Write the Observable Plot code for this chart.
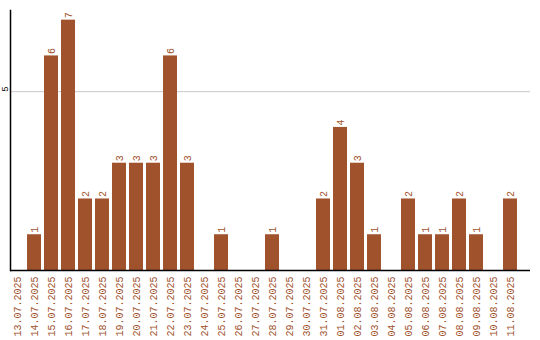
<!DOCTYPE html>
<html>
<head>
<meta charset="utf-8">
<script src="https://cdn.jsdelivr.net/npm/d3@7"></script>
<script src="https://cdn.jsdelivr.net/npm/@observablehq/plot@0.6"></script>
<style>
  html, body { margin: 0; padding: 0; background: #fff; }
  #chart svg { display: block; }
</style>
</head>
<body>
<div id="chart"></div>
<script>
const dates = ["13.07.2025","14.07.2025","15.07.2025","16.07.2025","17.07.2025","18.07.2025","19.07.2025","20.07.2025","21.07.2025","22.07.2025","23.07.2025","24.07.2025","25.07.2025","26.07.2025","27.07.2025","28.07.2025","29.07.2025","30.07.2025","31.07.2025","01.08.2025","02.08.2025","03.08.2025","04.08.2025","05.08.2025","06.08.2025","07.08.2025","08.08.2025","09.08.2025","10.08.2025","11.08.2025"];
const counts = [0,1,6,7,2,2,3,3,3,6,3,0,1,0,0,1,0,0,2,4,3,1,0,2,1,1,2,1,0,2];
const yTicks = [5];

const data = dates.map((d, i) => ({date: d, count: counts[i]}));
const bars = data.filter(d => d.count > 0);
const color = "#A0522D";

const chart = Plot.plot({
  width: 540,
  height: 340,
  marginLeft: 10,
  marginRight: 10,
  marginTop: 10,
  marginBottom: 70,
  style: {fontFamily: "'Liberation Mono', 'DejaVu Sans Mono', monospace", background: "#fff"},
  x: {domain: dates, range: [10, 517], paddingInner: 3/17, paddingOuter: 0, align: 0},
  y: {domain: [0, 7.27]},
  marks: [
    Plot.gridY(yTicks, {stroke: "#c8c8c8", strokeOpacity: 1}),
    Plot.barY(bars, {x: "date", y: "count", fill: color}),
    Plot.text(bars, {x: "date", y: "count", text: d => String(d.count), rotate: -90, textAnchor: "start", dy: -2, fill: color, fontSize: 10}),
    Plot.axisX({tickSize: 0, tickRotate: -90, tickPadding: 6, fontSize: 10, fill: color, label: null}),
    Plot.text(yTicks, {y: d => d, text: d => String(d), frameAnchor: "left", dx: -5, rotate: -90, fontSize: 9, fill: "#000"}),
    Plot.axisY({ticks: [], label: null}),
    Plot.ruleY([0], {stroke: "#000", strokeWidth: 1.5}),
    Plot.frame({anchor: "left", stroke: "#000", strokeWidth: 1.5})
  ]
});
document.getElementById("chart").appendChild(chart);
</script>
</body>
</html>
